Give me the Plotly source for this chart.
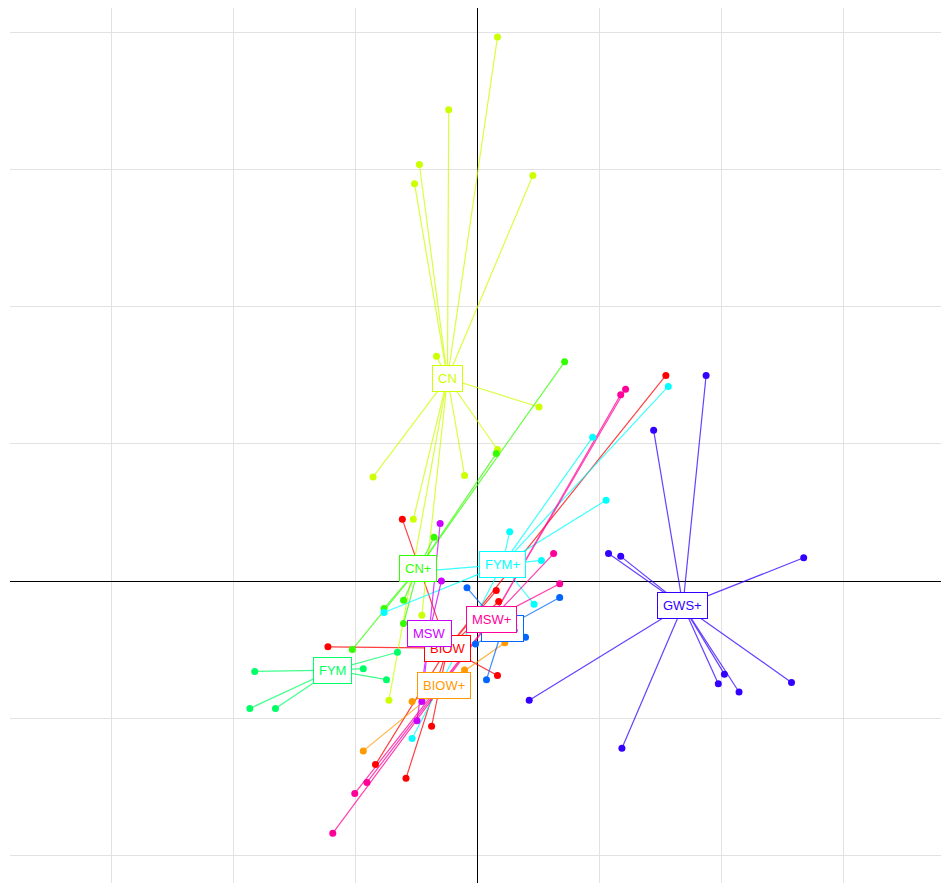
import plotly.graph_objects as go

# ---- data (axis units) ----
groups = ["BIOW", "BIOW+", "CN", "CN+", "FYM", "FYM+", "GWS", "GWS+", "MSW", "MSW+"]
colors = ["#FF0000", "#FF9900", "#CCFF00", "#33FF00", "#00FF66",
          "#00FFFF", "#0066FF", "#3300FF", "#CC00FF", "#FF0099"]

biow_x = [1.54, -0.62, 0.15, 0.17, 0.16, -1.23, -0.84, -0.59, -0.38]
biow_y = [1.50, 0.45, -0.07, -0.15, -0.69, -0.48, -1.34, -1.44, -1.06]

biowp_x = [-0.94, -0.54, -0.11, 0.22]
biowp_y = [-1.24, -0.88, -0.65, -0.45]

cn_x = [0.16, -0.24, -0.48, -0.52, 0.45, -0.34, 0.50, 0.16, -0.11, -0.86, -0.53, -0.46, -0.73]
cn_y = [3.97, 3.44, 3.04, 2.90, 2.96, 1.64, 1.27, 0.96, 0.77, 0.76, 0.45, -0.25, -0.87]

cnp_x = [0.71, 0.15, -0.36, -0.61, -0.77, -1.03, -0.61]
cnp_y = [1.60, 0.93, 0.32, -0.14, -0.20, -0.50, -0.31]

fym_x = [-1.83, -1.87, -1.66, -0.94, -0.75, -0.66]
fym_y = [-0.66, -0.93, -0.93, -0.64, -0.72, -0.52]

fymp_x = [1.56, 0.94, 1.05, 0.26, 0.52, 0.46, -0.77, -0.54, -0.48]
fymp_y = [1.42, 1.05, 0.59, 0.36, 0.15, -0.17, -0.23, -1.15, 0.07]

gws_x = [-0.09, 0.67, 0.39, 0.07, -0.02]
gws_y = [-0.05, -0.12, -0.41, -0.72, -0.46]

gwsp_x = [1.87, 1.44, 1.07, 1.17, 2.67, 1.97, 2.02, 2.14, 2.57, 1.18, 0.42]
gwsp_y = [1.50, 1.10, 0.20, 0.18, 0.17, -0.75, -0.68, -0.81, -0.74, -1.22, -0.87]

msw_x = [-0.31, -0.30, -0.50, -0.46]
msw_y = [0.42, 0.00, -1.02, -0.88]

mswp_x = [1.21, 1.17, 0.62, 0.67, -1.19, -1.01, -0.91]
mswp_y = [1.40, 1.36, 0.20, -0.02, -1.84, -1.55, -1.47]

# group centres (label positions)
centre_x = [-0.25, -0.28, -0.25, -0.49, -1.19, 0.20, 0.20, 1.68, -0.40, 0.11]
centre_y = [-0.49, -0.76, 1.48, 0.09, -0.65, 0.12, -0.35, -0.18, -0.38, -0.28]

points_x = [biow_x, biowp_x, cn_x, cnp_x, fym_x, fymp_x, gws_x, gwsp_x, msw_x, mswp_x]
points_y = [biow_y, biowp_y, cn_y, cnp_y, fym_y, fymp_y, gws_y, gwsp_y, msw_y, mswp_y]

fig = go.Figure()

for g, col, px, py, cx, cy in zip(groups, colors, points_x, points_y, centre_x, centre_y):
    lx, ly = [], []
    for xv, yv in zip(px, py):
        lx += [cx, xv, None]
        ly += [cy, yv, None]
    fig.add_trace(go.Scatter(x=lx, y=ly, mode="lines",
                             line=dict(color=col, width=1.2),
                             opacity=0.75, hoverinfo="skip", showlegend=False))
for g, col, px, py in zip(groups, colors, points_x, points_y):
    fig.add_trace(go.Scatter(x=px, y=py, mode="markers",
                             marker=dict(color=col, size=7, line=dict(width=0)),
                             name=g, showlegend=False))

for g, col, cx, cy in zip(groups, colors, centre_x, centre_y):
    fig.add_annotation(x=cx, y=cy, text=g, showarrow=False,
                       font=dict(family="Liberation Sans, Arial, sans-serif", size=13, color=col),
                       bgcolor="white", bordercolor=col, borderwidth=1, borderpad=5)

axis_common = dict(showgrid=True, gridcolor="#e2e2e2", gridwidth=1,
                   zeroline=True, zerolinecolor="black", zerolinewidth=1,
                   showticklabels=False, ticks="", showline=False, dtick=1)

fig.update_layout(
    width=941, height=875,
    margin=dict(l=2, r=0, t=0, b=0),
    paper_bgcolor="white", plot_bgcolor="white",
    xaxis=dict(range=[-3.836, 3.861], **axis_common),
    yaxis=dict(range=[-2.204, 4.182], **axis_common),
    showlegend=False,
)

fig.write_html("out.html")
